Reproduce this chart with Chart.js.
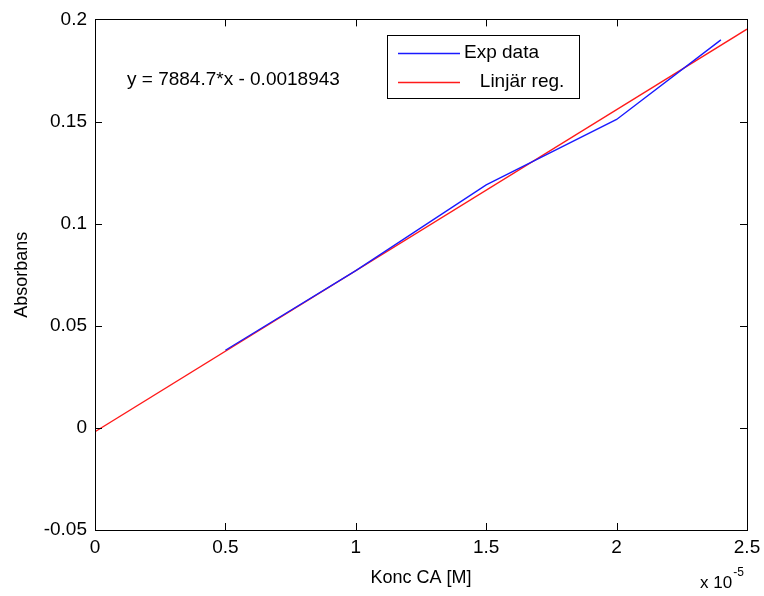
<!DOCTYPE html>
<html>
<head>
<meta charset="utf-8">
<script src="https://cdn.jsdelivr.net/npm/chart.js@4/dist/chart.umd.min.js"></script>
<style>
    body { margin: 0; background: #fff; }
    #wrap { width: 764px; height: 596px; }
</style>
</head>
<body>
<div id="wrap"><canvas id="myChart" width="764" height="596"></canvas></div>
<script>
// koncentration (x 10^-5 M) och absorbans
var concX = [0.5, 1.0, 1.5, 2.0, 2.4];
var absY = [0.038, 0.077, 0.119, 0.151, 0.19];
// regressionslinje, ändpunkter
var regX = [0, 2.5];
var regY = [-0.0019, 0.1952];
var seriesNames = ['Exp data', '   Linjär reg.'];
var eqText = 'y = 7884.7*x - 0.0018943';
var xTitle = 'Konc CA [M]';
var yTitle = 'Absorbans';
var xExpBase = 'x 10';
var xExpPow = '-5';

var FONT = '"Liberation Sans", Arial, sans-serif';

function toPoints(xs, ys) {
    var pts = [];
    for (var i = 0; i < xs.length; i++) {
        pts.push({x: xs[i], y: ys[i]});
    }
    return pts;
}

// matlab-liknande ram, tickmarks inåt, legend och text
var matlabBox = {
    id: 'matlabBox',
    afterDraw: function (chart) {
        var ctx = chart.ctx,
            a = chart.chartArea,
            xs = chart.scales.x,
            ys = chart.scales.y,
            tl = 7;
        ctx.save();
        ctx.strokeStyle = '#000';
        ctx.lineWidth = 1;
        ctx.strokeRect(Math.round(a.left) + 0.5, Math.round(a.top) + 0.5,
            Math.round(a.right - a.left), Math.round(a.bottom - a.top));

        ctx.beginPath();
        xs.ticks.forEach(function (t) {
            var px = Math.round(xs.getPixelForValue(t.value)) + 0.5;
            ctx.moveTo(px, a.bottom); ctx.lineTo(px, a.bottom - tl);
            ctx.moveTo(px, a.top); ctx.lineTo(px, a.top + tl);
        });
        ys.ticks.forEach(function (t) {
            var py = Math.round(ys.getPixelForValue(t.value)) + 0.5;
            ctx.moveTo(a.left, py); ctx.lineTo(a.left + tl, py);
            ctx.moveTo(a.right, py); ctx.lineTo(a.right - tl, py);
        });
        ctx.stroke();

        // ekvation
        ctx.fillStyle = '#000';
        ctx.font = '19px ' + FONT;
        ctx.textBaseline = 'middle';
        ctx.textAlign = 'left';
        ctx.fillText(eqText, 127, 80);

        // legend
        ctx.fillStyle = '#fff';
        ctx.fillRect(387, 35, 192, 63);
        ctx.strokeStyle = '#000';
        ctx.strokeRect(387.5, 35.5, 192, 63);
        var rows = [53, 82];
        chart.data.datasets.forEach(function (ds, i) {
            ctx.strokeStyle = ds.borderColor;
            ctx.lineWidth = ds.borderWidth;
            ctx.beginPath();
            ctx.moveTo(398, rows[i] + 0.5);
            ctx.lineTo(460, rows[i] + 0.5);
            ctx.stroke();
            ctx.fillStyle = '#000';
            ctx.fillText(ds.label, 464, rows[i]);
        });

        // x 10^-5
        ctx.font = '17px ' + FONT;
        ctx.fillText(xExpBase, 700, 583);
        var w = ctx.measureText(xExpBase).width;
        ctx.font = '12px ' + FONT;
        ctx.fillText(xExpPow, 700 + w + 1, 573);
        ctx.restore();
    }
};

var ctx = document.getElementById('myChart').getContext('2d');
var chart = new Chart(ctx, {
    type: 'scatter',
    data: {
        datasets: [{
            label: seriesNames[0],
            data: toPoints(concX, absY),
            showLine: true,
            borderColor: '#1a1aff',
            borderWidth: 1.4,
            pointRadius: 0,
            tension: 0
        }, {
            label: seriesNames[1],
            data: toPoints(regX, regY),
            showLine: true,
            borderColor: '#ff1a1a',
            borderWidth: 1.4,
            pointRadius: 0,
            tension: 0
        }]
    },
    options: {
        responsive: false,
        animation: false,
        layout: {padding: {top: 17, right: 17, left: 0, bottom: 0}},
        plugins: {legend: {display: false}, tooltip: {enabled: false}},
        scales: {
            x: {
                type: 'linear',
                min: 0,
                max: 2.5,
                afterFit: function (s) {
                    s.height = 66;
                    s.paddingRight = 0;
                    s.paddingLeft = 0;
                },
                ticks: {
                    stepSize: 0.5,
                    color: '#000',
                    padding: 6,
                    maxRotation: 0,
                    font: {family: FONT, size: 19},
                    callback: function (v) { return String(Number(v.toFixed(2))); }
                },
                grid: {drawOnChartArea: false, drawTicks: false},
                border: {display: true, color: '#000'},
                title: {
                    display: true,
                    text: xTitle,
                    color: '#000',
                    font: {family: FONT, size: 18},
                    padding: {top: 0, bottom: 7}
                }
            },
            y: {
                min: -0.05,
                max: 0.2,
                afterFit: function (s) { s.width = 95; },
                ticks: {
                    stepSize: 0.05,
                    color: '#000',
                    padding: 8,
                    font: {family: FONT, size: 19},
                    callback: function (v) { return String(Number(v.toFixed(2))); }
                },
                grid: {drawOnChartArea: false, drawTicks: false},
                border: {display: true, color: '#000'},
                title: {
                    display: true,
                    text: yTitle,
                    color: '#000',
                    font: {family: FONT, size: 18},
                    padding: {top: 11, bottom: 0}
                }
            }
        }
    },
    plugins: [matlabBox]
});
</script>
</body>
</html>
